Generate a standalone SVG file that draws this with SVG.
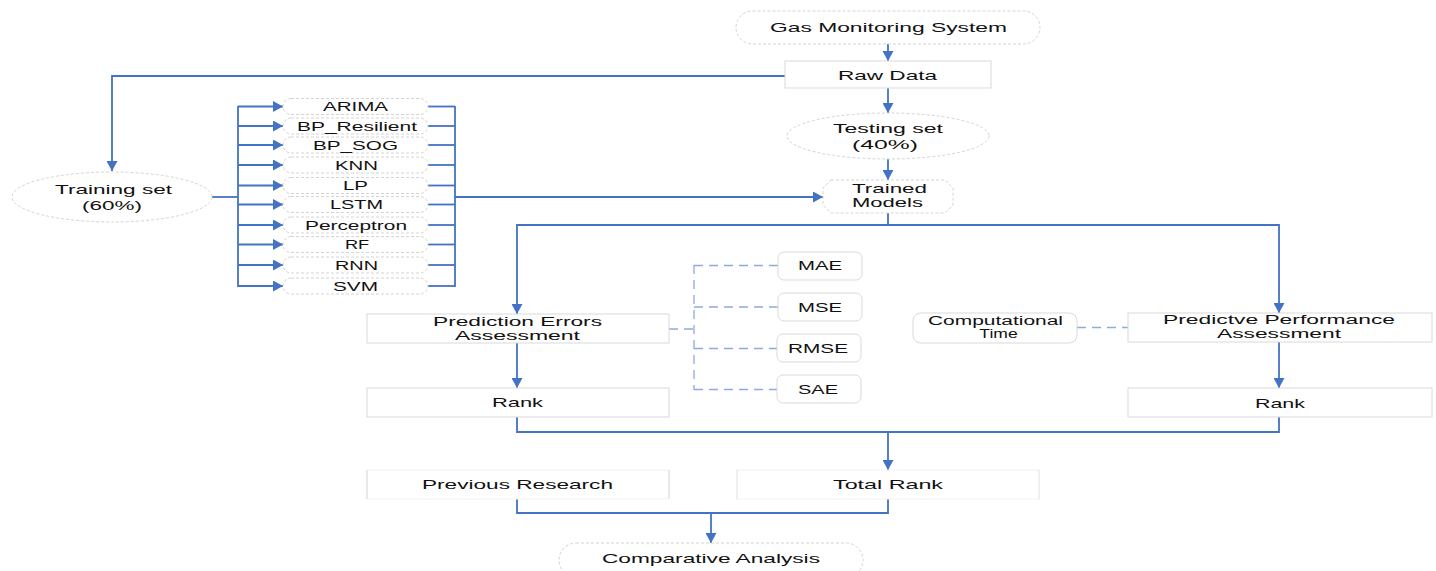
<svg xmlns="http://www.w3.org/2000/svg" width="1436" height="571" viewBox="0 0 1436 571">
<style>
text{font-family:"Liberation Sans",Arial,sans-serif;font-size:13px;fill:#111;text-anchor:middle}
.sm{font-size:12px}
.box{fill:#fff;stroke:#d9d9d9;stroke-width:1}
.dsh{fill:#fff;stroke:#d4d4d4;stroke-width:1;stroke-dasharray:3 2}
.ln{fill:none;stroke:#4472C4;stroke-width:1.8}
.dl{fill:none;stroke:#8faadc;stroke-width:1.3;stroke-dasharray:9 6}
</style>
<defs>
<marker id="ah" markerUnits="userSpaceOnUse" markerWidth="11" markerHeight="11" refX="10" refY="5.5" orient="auto">
<path d="M0,0 L10,5.5 L0,11 z" fill="#4472C4"/>
</marker>
</defs>
<rect width="1436" height="571" fill="#fff"/>
<g id="connectors">
<line class="ln" x1="888" y1="44" x2="888" y2="61" marker-end="url(#ah)"/>
<line class="ln" x1="888" y1="88" x2="888" y2="113" marker-end="url(#ah)"/>
<polyline class="ln" points="785,76 112,76 112,171" marker-end="url(#ah)"/>
<line class="ln" x1="888" y1="159" x2="888" y2="180" marker-end="url(#ah)"/>
<line class="ln" x1="212" y1="197" x2="238" y2="197"/>
<line class="ln" x1="238" y1="106" x2="238" y2="287"/>
<line class="ln" x1="455" y1="106" x2="455" y2="287"/>
<g>
<line class="ln" x1="238" y1="106.5" x2="283" y2="106.5" marker-end="url(#ah)"/>
<line class="ln" x1="238" y1="126" x2="283" y2="126" marker-end="url(#ah)"/>
<line class="ln" x1="238" y1="145" x2="283" y2="145" marker-end="url(#ah)"/>
<line class="ln" x1="238" y1="165" x2="283" y2="165" marker-end="url(#ah)"/>
<line class="ln" x1="238" y1="185.5" x2="283" y2="185.5" marker-end="url(#ah)"/>
<line class="ln" x1="238" y1="204.5" x2="283" y2="204.5" marker-end="url(#ah)"/>
<line class="ln" x1="238" y1="225" x2="283" y2="225" marker-end="url(#ah)"/>
<line class="ln" x1="238" y1="244.5" x2="283" y2="244.5" marker-end="url(#ah)"/>
<line class="ln" x1="238" y1="265" x2="283" y2="265" marker-end="url(#ah)"/>
<line class="ln" x1="238" y1="286" x2="283" y2="286" marker-end="url(#ah)"/>
</g>
<g>
<line class="ln" x1="428" y1="106.5" x2="455" y2="106.5"/>
<line class="ln" x1="428" y1="126" x2="455" y2="126"/>
<line class="ln" x1="428" y1="145" x2="455" y2="145"/>
<line class="ln" x1="428" y1="165" x2="455" y2="165"/>
<line class="ln" x1="428" y1="185.5" x2="455" y2="185.5"/>
<line class="ln" x1="428" y1="204.5" x2="455" y2="204.5"/>
<line class="ln" x1="428" y1="225" x2="455" y2="225"/>
<line class="ln" x1="428" y1="244.5" x2="455" y2="244.5"/>
<line class="ln" x1="428" y1="265" x2="455" y2="265"/>
<line class="ln" x1="428" y1="286" x2="455" y2="286"/>
</g>
<line class="ln" x1="455" y1="197" x2="823" y2="197" marker-end="url(#ah)"/>
<polyline class="ln" points="888,213 888,225 517,225 517,314" marker-end="url(#ah)"/>
<polyline class="ln" points="888,225 1279,225 1279,313" marker-end="url(#ah)"/>
<line class="ln" x1="517" y1="343" x2="517" y2="388" marker-end="url(#ah)"/>
<line class="ln" x1="1279" y1="342" x2="1279" y2="388" marker-end="url(#ah)"/>
<polyline class="ln" points="517,417 517,432 1279,432 1279,417"/>
<line class="ln" x1="888" y1="432" x2="888" y2="470" marker-end="url(#ah)"/>
<polyline class="ln" points="517,499 517,513 888,513 888,499"/>
<line class="ln" x1="711" y1="513" x2="711" y2="543" marker-end="url(#ah)"/>
<line class="dl" x1="669" y1="329" x2="694" y2="329"/>
<line class="dl" x1="694" y1="265" x2="694" y2="390"/>
<line class="dl" x1="694" y1="265.5" x2="778" y2="265.5"/>
<line class="dl" x1="694" y1="307" x2="778" y2="307"/>
<line class="dl" x1="694" y1="348.5" x2="777" y2="348.5"/>
<line class="dl" x1="694" y1="389.5" x2="777" y2="389.5"/>
<line class="dl" x1="1077" y1="327.5" x2="1128" y2="327.5"/>
</g>
<g id="gas-monitoring">
<rect class="dsh" x="736" y="11" width="304" height="33" rx="16.5"/>
<text x="888.5" y="31.5" textLength="237" lengthAdjust="spacingAndGlyphs">Gas Monitoring System</text>
</g>
<g id="raw-data">
<rect class="box" x="785" y="61" width="206" height="27"/>
<text x="887.5" y="79.5" textLength="99" lengthAdjust="spacingAndGlyphs">Raw Data</text>
</g>
<g id="training-set">
<ellipse class="dsh" cx="112" cy="197" rx="100" ry="25"/>
<text x="113.5" y="193.5" textLength="117" lengthAdjust="spacingAndGlyphs">Training set</text>
<text x="112" y="209.5" textLength="60" lengthAdjust="spacingAndGlyphs">(60%)</text>
</g>
<g id="testing-set">
<ellipse class="dsh" cx="888" cy="136" rx="101" ry="23"/>
<text x="888" y="132.5" textLength="110" lengthAdjust="spacingAndGlyphs">Testing set</text>
<text x="885" y="148.5" textLength="66" lengthAdjust="spacingAndGlyphs">(40%)</text>
</g>
<g id="trained-models">
<polygon class="dsh" points="831,180 945,180 953,188 953,205 945,213 831,213 823,205 823,188"/>
<text x="889.5" y="192.5" textLength="75" lengthAdjust="spacingAndGlyphs">Trained</text>
<text x="887.5" y="206.5" textLength="71" lengthAdjust="spacingAndGlyphs">Models</text>
</g>
<g id="m-arima"><rect class="dsh" x="283" y="98.5" width="145" height="16" rx="8"/><text x="355.5" y="111" textLength="65" lengthAdjust="spacingAndGlyphs">ARIMA</text></g>
<g id="m-bp-resilient"><rect class="dsh" x="283" y="118" width="145" height="16" rx="8"/><text x="357" y="130.5" textLength="120" lengthAdjust="spacingAndGlyphs">BP_Resilient</text></g>
<g id="m-bp-sog"><rect class="dsh" x="283" y="137" width="145" height="16" rx="8"/><text x="355.5" y="149.5" textLength="85" lengthAdjust="spacingAndGlyphs">BP_SOG</text></g>
<g id="m-knn"><rect class="dsh" x="283" y="157" width="145" height="16" rx="8"/><text x="356.5" y="169.5" textLength="43" lengthAdjust="spacingAndGlyphs">KNN</text></g>
<g id="m-lp"><rect class="dsh" x="283" y="177.5" width="145" height="16" rx="8"/><text x="355.5" y="190" textLength="25" lengthAdjust="spacingAndGlyphs">LP</text></g>
<g id="m-lstm"><rect class="dsh" x="283" y="196.5" width="145" height="16" rx="8"/><text x="356.5" y="209" textLength="53" lengthAdjust="spacingAndGlyphs">LSTM</text></g>
<g id="m-perceptron"><rect class="dsh" x="283" y="217" width="145" height="16" rx="8"/><text x="356" y="229.5" textLength="102" lengthAdjust="spacingAndGlyphs">Perceptron</text></g>
<g id="m-rf"><rect class="dsh" x="283" y="236.5" width="145" height="16" rx="8"/><text transform="translate(357,249) scale(1.4,1)">RF</text></g>
<g id="m-rnn"><rect class="dsh" x="283" y="257" width="145" height="16" rx="8"/><text x="356.5" y="269.5" textLength="43" lengthAdjust="spacingAndGlyphs">RNN</text></g>
<g id="m-svm"><rect class="dsh" x="283" y="278" width="145" height="16" rx="8"/><text x="355.5" y="290.5" textLength="45" lengthAdjust="spacingAndGlyphs">SVM</text></g>
<g id="mae"><rect class="box" x="778" y="252" width="84" height="28" rx="6"/><text x="820" y="269.5" textLength="44" lengthAdjust="spacingAndGlyphs">MAE</text></g>
<g id="mse"><rect class="box" x="778" y="293" width="84" height="28" rx="6"/><text x="820" y="311.5" textLength="44" lengthAdjust="spacingAndGlyphs">MSE</text></g>
<g id="rmse"><rect class="box" x="777" y="334" width="84" height="28" rx="6"/><text x="818" y="352.5" textLength="60" lengthAdjust="spacingAndGlyphs">RMSE</text></g>
<g id="sae"><rect class="box" x="777" y="375" width="84" height="28" rx="6"/><text x="818" y="393.5" textLength="40" lengthAdjust="spacingAndGlyphs">SAE</text></g>
<g id="prediction-errors">
<rect class="box" x="367" y="314" width="302" height="29"/>
<text x="517.5" y="325.5" textLength="169" lengthAdjust="spacingAndGlyphs">Prediction Errors</text>
<text x="517.5" y="339.5" textLength="125" lengthAdjust="spacingAndGlyphs">Assessment</text>
</g>
<g id="rank-errors">
<rect class="box" x="367" y="388" width="302" height="29"/>
<text x="517.5" y="406.5" textLength="51" lengthAdjust="spacingAndGlyphs">Rank</text>
</g>
<g id="computational-time">
<rect class="box" x="913" y="313" width="164" height="30" rx="8"/>
<text class="sm" x="995.5" y="324.5" textLength="135" lengthAdjust="spacingAndGlyphs">Computational</text>
<text transform="translate(998.5,338) scale(1.35,1)">Time</text>
</g>
<g id="predictive-performance">
<rect class="box" x="1128" y="313" width="304" height="29"/>
<text class="sm" x="1279" y="324" textLength="232" lengthAdjust="spacingAndGlyphs">Predictve Performance</text>
<text class="sm" x="1279" y="337.5" textLength="124" lengthAdjust="spacingAndGlyphs">Assessment</text>
</g>
<g id="rank-performance">
<rect class="box" x="1128" y="388" width="304" height="29"/>
<text x="1280" y="407.5" textLength="50" lengthAdjust="spacingAndGlyphs">Rank</text>
</g>
<g id="previous-research">
<rect x="367" y="470" width="302" height="29" fill="#fff" stroke="#f2f2f2"/>
<line x1="367" y1="470" x2="367" y2="499" stroke="#d9d9d9"/>
<line x1="669" y1="470" x2="669" y2="499" stroke="#d9d9d9"/>
<text x="517.5" y="488.5" textLength="191" lengthAdjust="spacingAndGlyphs">Previous Research</text>
</g>
<g id="total-rank">
<rect x="737" y="470" width="302" height="29" fill="#fff" stroke="#f2f2f2"/>
<line x1="737" y1="470" x2="737" y2="499" stroke="#e6e6e6"/>
<line x1="1039" y1="470" x2="1039" y2="499" stroke="#e6e6e6"/>
<text x="888" y="488.5" textLength="110" lengthAdjust="spacingAndGlyphs">Total Rank</text>
</g>
<g id="comparative-analysis">
<rect class="dsh" x="559" y="543" width="304" height="34" rx="17"/>
<text x="711" y="562.5" textLength="218" lengthAdjust="spacingAndGlyphs">Comparative Analysis</text>
</g>
</svg>
